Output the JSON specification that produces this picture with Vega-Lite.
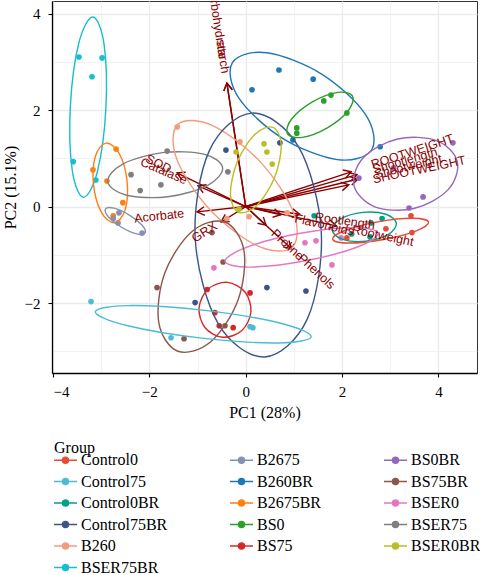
{
  "$schema": "https://vega.github.io/schema/vega-lite/v6.json",
  "width": 425,
  "height": 372,
  "autosize": "none",
  "padding": {"left": 52, "top": 1, "right": 3, "bottom": 202},
  "background": "white",
  "config": {
    "font": "Liberation Serif",
    "view": {"stroke": "#333333", "strokeWidth": 1}
  },
  "datasets": {
    "pts": [
      {"g":"BSER75BR","x":-3.46,"y":3.10},{"g":"BSER75BR","x":-2.98,"y":3.08},{"g":"BSER75BR","x":-3.19,"y":2.69},{"g":"BSER75BR","x":-3.58,"y":0.93},{"g":"BSER75BR","x":-3.11,"y":0.55},
      {"g":"B2675BR","x":-2.69,"y":1.19},{"g":"B2675BR","x":-3.17,"y":0.76},{"g":"B2675BR","x":-2.88,"y":0.53},{"g":"B2675BR","x":-2.55,"y":0.08},{"g":"B2675BR","x":-2.75,"y":-0.19},
      {"g":"B2675","x":-2.63,"y":-0.13},{"g":"B2675","x":-2.75,"y":-0.25},{"g":"B2675","x":-2.65,"y":-0.34},{"g":"B2675","x":-2.15,"y":-0.55},
      {"g":"BSER75","x":-1.63,"y":1.15},{"g":"BSER75","x":-2.38,"y":0.66},{"g":"BSER75","x":-1.76,"y":0.45},{"g":"BSER75","x":-2.19,"y":0.33},{"g":"BSER75","x":-0.37,"y":0.72},
      {"g":"B260","x":-1.42,"y":1.65},{"g":"B260","x":-0.12,"y":1.34},{"g":"B260","x":0.86,"y":-0.13},{"g":"B260","x":0.07,"y":-0.21},{"g":"B260","x":-0.39,"y":-0.25},
      {"g":"Control75BR","x":-0.41,"y":1.17},{"g":"Control75BR","x":0.71,"y":1.32},{"g":"Control75BR","x":-1.05,"y":-1.99},{"g":"Control75BR","x":0.44,"y":-1.68},{"g":"Control75BR","x":1.25,"y":-1.75},
      {"g":"B260BR","x":0.69,"y":2.83},{"g":"B260BR","x":1.40,"y":2.64},{"g":"B260BR","x":0.13,"y":2.42},{"g":"B260BR","x":2.79,"y":1.24},{"g":"B260BR","x":0.98,"y":1.38},
      {"g":"BS0","x":1.77,"y":2.31},{"g":"BS0","x":1.62,"y":2.19},{"g":"BS0","x":2.10,"y":1.94},{"g":"BS0","x":1.06,"y":1.63},{"g":"BS0","x":1.06,"y":1.52},
      {"g":"BSER0BR","x":0.38,"y":1.30},{"g":"BSER0BR","x":0.44,"y":1.13},{"g":"BSER0BR","x":-0.20,"y":1.13},{"g":"BSER0BR","x":0.55,"y":0.88},{"g":"BSER0BR","x":-0.14,"y":-0.05},
      {"g":"BS0BR","x":4.30,"y":1.32},{"g":"BS0BR","x":3.07,"y":0.80},{"g":"BS0BR","x":2.35,"y":0.59},{"g":"BS0BR","x":3.68,"y":0.20},{"g":"BS0BR","x":3.39,"y":-0.03},
      {"g":"Control0BR","x":1.42,"y":-0.19},{"g":"Control0BR","x":2.60,"y":-0.34},{"g":"Control0BR","x":2.83,"y":-0.25},{"g":"Control0BR","x":2.20,"y":-0.57},{"g":"Control0BR","x":2.58,"y":-0.63},
      {"g":"Control0","x":2.10,"y":-0.65},{"g":"Control0","x":2.91,"y":-0.46},{"g":"Control0","x":3.43,"y":-0.19},{"g":"Control0","x":3.45,"y":-0.54},
      {"g":"BSER0","x":1.23,"y":-0.75},{"g":"BSER0","x":1.46,"y":-0.71},{"g":"BSER0","x":1.79,"y":-1.21},{"g":"BSER0","x":-0.66,"y":-1.27},{"g":"BSER0","x":1.98,"y":-0.65},
      {"g":"BS75","x":-0.80,"y":-1.72},{"g":"BS75","x":-0.64,"y":-2.20},{"g":"BS75","x":-0.55,"y":-2.47},{"g":"BS75","x":-0.26,"y":-2.51},{"g":"BS75","x":0.09,"y":-1.79},
      {"g":"BS75BR","x":-0.70,"y":-0.54},{"g":"BS75BR","x":-0.47,"y":-1.15},{"g":"BS75BR","x":-1.84,"y":-1.68},{"g":"BS75BR","x":-1.28,"y":-2.74},{"g":"BS75BR","x":-0.43,"y":-2.47},
      {"g":"Control75","x":-3.21,"y":-1.97},{"g":"Control75","x":-1.55,"y":-2.72},{"g":"Control75","x":0.09,"y":-2.49},{"g":"Control75","x":0.15,"y":-2.51}
    ],
    "ell": [
      {"g":"BSER75BR","k":0,"x":-3.172,"y":3.927},{"g":"BSER75BR","k":1,"x":-3.462,"y":3.394},{"g":"BSER75BR","k":2,"x":-3.639,"y":2.079},{"g":"BSER75BR","k":3,"x":-3.600,"y":0.753},{"g":"BSER75BR","k":4,"x":-3.368,"y":0.193},{"g":"BSER75BR","k":5,"x":-3.078,"y":0.726},{"g":"BSER75BR","k":6,"x":-2.901,"y":2.041},{"g":"BSER75BR","k":7,"x":-2.940,"y":3.367},
      {"g":"B2675BR","k":0,"x":-2.897,"y":1.315},{"g":"B2675BR","k":1,"x":-3.118,"y":1.048},{"g":"B2675BR","k":2,"x":-3.158,"y":0.453},{"g":"B2675BR","k":3,"x":-2.995,"y":-0.120},{"g":"B2675BR","k":4,"x":-2.723,"y":-0.335},{"g":"B2675BR","k":5,"x":-2.503,"y":-0.068},{"g":"B2675BR","k":6,"x":-2.462,"y":0.527},{"g":"B2675BR","k":7,"x":-2.625,"y":1.100},
      {"g":"B2675","k":0,"x":-2.089,"y":-0.547},{"g":"B2675","k":1,"x":-2.154,"y":-0.384},{"g":"B2675","k":2,"x":-2.423,"y":-0.171},{"g":"B2675","k":3,"x":-2.736,"y":-0.034},{"g":"B2675","k":4,"x":-2.911,"y":-0.053},{"g":"B2675","k":5,"x":-2.846,"y":-0.216},{"g":"B2675","k":6,"x":-2.577,"y":-0.429},{"g":"B2675","k":7,"x":-2.264,"y":-0.566},
      {"g":"BSER75","k":0,"x":-0.479,"y":0.806},{"g":"BSER75","k":1,"x":-0.868,"y":1.086},{"g":"BSER75","k":2,"x":-1.726,"y":1.117},{"g":"BSER75","k":3,"x":-2.552,"y":0.880},{"g":"BSER75","k":4,"x":-2.861,"y":0.514},{"g":"BSER75","k":5,"x":-2.473,"y":0.234},{"g":"BSER75","k":6,"x":-1.614,"y":0.203},{"g":"BSER75","k":7,"x":-0.788,"y":0.440},
      {"g":"B260","k":0,"x":0.967,"y":-0.843},{"g":"B260","k":1,"x":0.992,"y":-0.123},{"g":"B260","k":2,"x":0.307,"y":0.921},{"g":"B260","k":3,"x":-0.687,"y":1.677},{"g":"B260","k":4,"x":-1.407,"y":1.703},{"g":"B260","k":5,"x":-1.432,"y":0.983},{"g":"B260","k":6,"x":-0.747,"y":-0.061},{"g":"B260","k":7,"x":0.247,"y":-0.817},
      {"g":"Control75BR","k":0,"x":0.128,"y":1.937},{"g":"Control75BR","k":1,"x":-0.759,"y":1.148},{"g":"Control75BR","k":2,"x":-1.048,"y":-0.659},{"g":"Control75BR","k":3,"x":-0.572,"y":-2.425},{"g":"Control75BR","k":4,"x":0.392,"y":-3.117},{"g":"Control75BR","k":5,"x":1.279,"y":-2.328},{"g":"Control75BR","k":6,"x":1.568,"y":-0.522},{"g":"Control75BR","k":7,"x":1.092,"y":1.245},
      {"g":"B260BR","k":0,"x":2.616,"y":1.177},{"g":"B260BR","k":1,"x":2.485,"y":1.909},{"g":"B260BR","k":2,"x":1.583,"y":2.741},{"g":"B260BR","k":3,"x":0.440,"y":3.187},{"g":"B260BR","k":4,"x":-0.276,"y":2.984},{"g":"B260BR","k":5,"x":-0.145,"y":2.251},{"g":"B260BR","k":6,"x":0.757,"y":1.419},{"g":"B260BR","k":7,"x":1.900,"y":0.973},
      {"g":"BS0","k":0,"x":2.216,"y":2.290},{"g":"BS0","k":1,"x":1.908,"y":2.366},{"g":"BS0","k":2,"x":1.385,"y":2.169},{"g":"BS0","k":3,"x":0.953,"y":1.814},{"g":"BS0","k":4,"x":0.865,"y":1.510},{"g":"BS0","k":5,"x":1.172,"y":1.434},{"g":"BS0","k":6,"x":1.695,"y":1.632},{"g":"BS0","k":7,"x":2.127,"y":1.986},
      {"g":"BSER0BR","k":0,"x":0.566,"y":1.641},{"g":"BSER0BR","k":1,"x":0.186,"y":1.494},{"g":"BSER0BR","k":2,"x":-0.179,"y":0.917},{"g":"BSER0BR","k":3,"x":-0.317,"y":0.248},{"g":"BSER0BR","k":4,"x":-0.146,"y":-0.121},{"g":"BSER0BR","k":5,"x":0.234,"y":0.026},{"g":"BSER0BR","k":6,"x":0.599,"y":0.603},{"g":"BSER0BR","k":7,"x":0.737,"y":1.272},
      {"g":"BS0BR","k":0,"x":4.392,"y":0.928},{"g":"BS0BR","k":1,"x":3.960,"y":1.365},{"g":"BS0BR","k":2,"x":3.154,"y":1.401},{"g":"BS0BR","k":3,"x":2.444,"y":1.015},{"g":"BS0BR","k":4,"x":2.248,"y":0.433},{"g":"BS0BR","k":5,"x":2.680,"y":-0.005},{"g":"BS0BR","k":6,"x":3.487,"y":-0.041},{"g":"BS0BR","k":7,"x":4.196,"y":0.345},
      {"g":"Control0BR","k":0,"x":3.126,"y":-0.350},{"g":"Control0BR","k":1,"x":2.909,"y":-0.160},{"g":"Control0BR","k":2,"x":2.429,"y":-0.122},{"g":"Control0BR","k":3,"x":1.967,"y":-0.259},{"g":"Control0BR","k":4,"x":1.794,"y":-0.490},{"g":"Control0BR","k":5,"x":2.011,"y":-0.681},{"g":"Control0BR","k":6,"x":2.491,"y":-0.718},{"g":"Control0BR","k":7,"x":2.953,"y":-0.582},
      {"g":"Control0","k":0,"x":3.795,"y":-0.325},{"g":"Control0","k":1,"x":3.480,"y":-0.244},{"g":"Control0","k":2,"x":2.767,"y":-0.313},{"g":"Control0","k":3,"x":2.073,"y":-0.492},{"g":"Control0","k":4,"x":1.805,"y":-0.675},{"g":"Control0","k":5,"x":2.120,"y":-0.756},{"g":"Control0","k":6,"x":2.833,"y":-0.687},{"g":"Control0","k":7,"x":3.527,"y":-0.508},
      {"g":"BSER0","k":0,"x":2.748,"y":-0.551},{"g":"BSER0","k":1,"x":2.246,"y":-0.435},{"g":"BSER0","k":2,"x":1.107,"y":-0.560},{"g":"BSER0","k":3,"x":0.000,"y":-0.851},{"g":"BSER0","k":4,"x":-0.428,"y":-1.139},{"g":"BSER0","k":5,"x":0.075,"y":-1.255},{"g":"BSER0","k":6,"x":1.213,"y":-1.130},{"g":"BSER0","k":7,"x":2.320,"y":-0.839},
      {"g":"BS75","k":0,"x":-0.380,"y":-1.572},{"g":"BS75","k":1,"x":-0.775,"y":-1.705},{"g":"BS75","k":2,"x":-0.968,"y":-2.093},{"g":"BS75","k":3,"x":-0.846,"y":-2.508},{"g":"BS75","k":4,"x":-0.480,"y":-2.708},{"g":"BS75","k":5,"x":-0.085,"y":-2.575},{"g":"BS75","k":6,"x":0.108,"y":-2.187},{"g":"BS75","k":7,"x":-0.014,"y":-1.772},
      {"g":"BS75BR","k":0,"x":-0.433,"y":-0.321},{"g":"BS75BR","k":1,"x":-1.114,"y":-0.517},{"g":"BS75BR","k":2,"x":-1.681,"y":-1.383},{"g":"BS75BR","k":3,"x":-1.803,"y":-2.411},{"g":"BS75BR","k":4,"x":-1.407,"y":-2.999},{"g":"BS75BR","k":5,"x":-0.726,"y":-2.803},{"g":"BS75BR","k":6,"x":-0.159,"y":-1.937},{"g":"BS75BR","k":7,"x":-0.037,"y":-0.909},
      {"g":"Control75","k":0,"x":1.360,"y":-2.699},{"g":"Control75","k":1,"x":0.728,"y":-2.420},{"g":"Control75","k":2,"x":-0.847,"y":-2.152},{"g":"Control75","k":3,"x":-2.441,"y":-2.053},{"g":"Control75","k":4,"x":-3.120,"y":-2.181},{"g":"Control75","k":5,"x":-2.488,"y":-2.461},{"g":"Control75","k":6,"x":-0.913,"y":-2.728},{"g":"Control75","k":7,"x":0.681,"y":-2.827}
    ],
    "arr": [
      {"v":"Carbohydrate","x":-0.39,"y":2.56,"lx":-0.47,"ly":3.06},
      {"v":"starch","x":-0.39,"y":2.56,"lx":-0.42,"ly":2.76},
      {"v":"Catalase","x":-0.99,"y":0.43,"lx":-1.23,"ly":0.53},
      {"v":"SOD","x":-1.425,"y":0.70,"lx":-1.556,"ly":0.76},
      {"v":"Acorbate","x":-1.01,"y":-0.11,"lx":-1.28,"ly":-0.14},
      {"v":"GRX","x":-0.51,"y":-0.32,"lx":-0.62,"ly":-0.38},
      {"v":"Proline","x":0.42,"y":-0.385,"lx":0.57,"ly":-0.52},
      {"v":"Phenols","x":0.95,"y":-0.875,"lx":1.125,"ly":-1.03},
      {"v":"Flavonoids","x":0.73,"y":-0.17,"lx":1.02,"ly":-0.24},
      {"v":"Rootlength","x":1.12,"y":-0.16,"lx":1.44,"ly":-0.21},
      {"v":"Rootweight","x":1.88,"y":-0.40,"lx":2.21,"ly":-0.47},
      {"v":"ROOTWEIGHT","x":2.19,"y":0.72,"lx":2.61,"ly":0.86},
      {"v":"Shootlength","x":2.31,"y":0.66,"lx":2.64,"ly":0.76},
      {"v":"Shootweight","x":2.33,"y":0.57,"lx":2.68,"ly":0.66},
      {"v":"SHOOTWEIGHT","x":2.14,"y":0.45,"lx":2.64,"ly":0.56}
    ]
  },
  "encoding": {
    "x": {"type": "quantitative", "scale": {"domain": [-4.02, 4.80], "nice": false, "zero": false},
      "axis": {"title": "PC1 (28%)", "values": [-4,-3,-2,-1,0,1,2,3,4],
        "labelFont": "Liberation Serif", "labelFontSize": 15, "labelColor": "#000",
        "titleFont": "Liberation Serif", "titleFontSize": 16, "titleFontWeight": "normal", "titleColor": "#000",
        "domainColor": "#000", "domainWidth": 1.3, "tickColor": "#000", "tickSize": 4, "tickWidth": 1.1, "gridColor": "#EBEBEB",
        "labelExpr": "datum.value % 2 === 0 ? datum.label : ''",
        "tickOpacity": {"condition": {"test": "datum.value % 2 !== 0", "value": 0}, "value": 1},
        "gridWidth": {"condition": {"test": "datum.value % 2 !== 0", "value": 0.6}, "value": 1.3},
        "labelPadding": 7, "titlePadding": 5}},
    "y": {"type": "quantitative", "scale": {"domain": [-3.45, 4.26], "nice": false, "zero": false},
      "axis": {"title": "PC2 (15.1%)", "values": [-3,-2,-1,0,1,2,3,4],
        "labelFont": "Liberation Serif", "labelFontSize": 15, "labelColor": "#000",
        "titleFont": "Liberation Serif", "titleFontSize": 16, "titleFontWeight": "normal", "titleColor": "#000",
        "domainColor": "#000", "domainWidth": 1.3, "tickColor": "#000", "tickSize": 4, "tickWidth": 1.1, "gridColor": "#EBEBEB",
        "labelExpr": "datum.value % 2 === 0 ? datum.label : ''",
        "tickOpacity": {"condition": {"test": "datum.value % 2 !== 0", "value": 0}, "value": 1},
        "gridWidth": {"condition": {"test": "datum.value % 2 !== 0", "value": 0.6}, "value": 1.3},
        "labelPadding": 8, "titlePadding": 6}}
  },
  "layer": [
    {
      "data": {"name": "arr"},
      "mark": {"type": "rule", "color": "#8B0000", "strokeWidth": 1.4},
      "encoding": {"x": {"field": "x"}, "y": {"field": "y"}, "x2": {"datum": 0}, "y2": {"datum": 0}}
    },
    {
      "data": {"name": "arr"},
      "transform": [{"calculate": "atan2(datum.x, datum.y) * 180 / PI", "as": "hang"}],
      "mark": {"type": "point", "shape": "M-0.5,0.866L0,0L0.5,0.866", "filled": false, "color": "#8B0000", "strokeWidth": 1.4, "size": 300, "opacity": 1},
      "encoding": {"x": {"field": "x"}, "y": {"field": "y"}, "angle": {"field": "hang", "type": "quantitative", "scale": null}}
    },
    {
      "data": {"name": "pts"},
      "mark": {"type": "point", "filled": true, "size": 32, "opacity": 1},
      "encoding": {
        "x": {"field": "x"}, "y": {"field": "y"},
        "color": {"field": "g", "type": "nominal",
          "scale": {
            "domain": ["Control0","B2675","BS0BR","Control75","B260BR","BS75BR","Control0BR","B2675BR","BSER0","Control75BR","BS0","BSER75","B260","BS75","BSER0BR","BSER75BR"],
            "range": ["#E64B35","#8491B4","#9467BD","#4DBBD5","#1F77B4","#8C564B","#00A087","#FF7F0E","#E377C2","#3C5488","#2CA02C","#7F7F7F","#F39B7F","#D62728","#BCBD22","#17BECF"]},
          "legend": {
            "title": "Group", "orient": "none", "legendX": 2, "legendY": 439,
            "columns": 3, "direction": "horizontal",
            "titleFont": "Liberation Serif", "titleFontSize": 16, "titleFontWeight": "normal", "titleColor": "#000", "titlePadding": -4.5,
            "labelFont": "Liberation Serif", "labelFontSize": 16, "labelColor": "#000", "labelOffset": 7,
            "symbolType": "M-1.5,0L1.5,0M0.4,0A0.4,0.4 0 1,1 -0.4,0A0.4,0.4 0 1,1 0.4,0Z",
            "symbolSize": 235, "symbolOffset": 3, "symbolStrokeWidth": 1.3,
            "rowPadding": 4.5, "columnPadding": 59, "padding": 0,
            "encode": {
              "symbols": {"update": {"stroke": {"scale": "color", "field": "value"}, "fill": {"scale": "color", "field": "value"}, "opacity": {"value": 1}}}
            }
          }}
      }
    },
    {
      "data": {"name": "ell"},
      "mark": {"type": "line", "interpolate": "cardinal-closed", "strokeWidth": 1.4, "clip": true},
      "encoding": {"x": {"field": "x"}, "y": {"field": "y"}, "color": {"field": "g", "type": "nominal"}, "order": {"field": "k", "type": "quantitative"}}
    },
    {
      "data": {"name": "arr"},
      "transform": [{"filter": "datum.x < 0"}, {"calculate": "-atan(datum.y / datum.x) * 180 / PI", "as": "tang"}],
      "mark": {"type": "text", "align": "right", "baseline": "middle", "font": "Liberation Sans", "fontSize": 12.5, "color": "#8B0000", "clip": true},
      "encoding": {"x": {"field": "lx"}, "y": {"field": "ly"}, "text": {"field": "v"}, "angle": {"field": "tang", "type": "quantitative", "scale": null}}
    },
    {
      "data": {"name": "arr"},
      "transform": [{"filter": "datum.x > 0"}, {"calculate": "-atan(datum.y / datum.x) * 180 / PI", "as": "tang"}],
      "mark": {"type": "text", "align": "left", "baseline": "middle", "font": "Liberation Sans", "fontSize": 12.5, "color": "#8B0000", "clip": true},
      "encoding": {"x": {"field": "lx"}, "y": {"field": "ly"}, "text": {"field": "v"}, "angle": {"field": "tang", "type": "quantitative", "scale": null}}
    }
  ]
}
